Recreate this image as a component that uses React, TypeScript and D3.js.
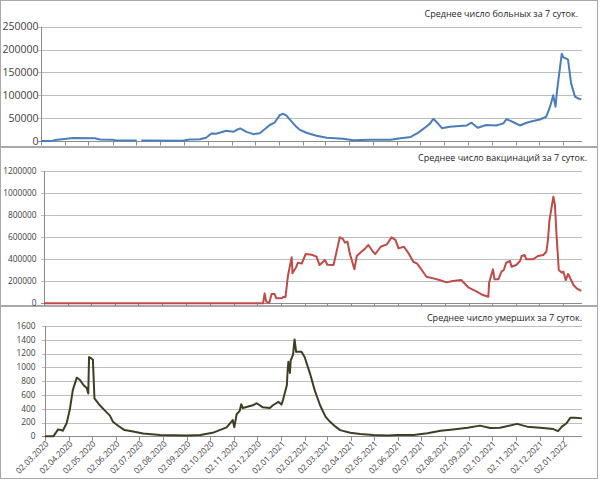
import { useEffect, useRef } from "react";
import * as d3 from "d3";

type Point = [string, number | null];

const TICK_LABELS = [
  "02.03.2020", "02.04.2020", "02.05.2020", "02.06.2020", "02.07.2020", "02.08.2020",
  "02.09.2020", "02.10.2020", "02.11.2020", "02.12.2020", "02.01.2021", "02.02.2021",
  "02.03.2021", "02.04.2021", "02.05.2021", "02.06.2021", "02.07.2021", "02.08.2021",
  "02.09.2021", "02.10.2021", "02.11.2021", "02.12.2021", "02.01.2022",
];

const CASES_TICKS = [0, 50000, 100000, 150000, 200000, 250000];
const VACC_TICKS = [0, 200000, 400000, 600000, 800000, 1000000, 1200000];
const DEATH_TICKS = [0, 200, 400, 600, 800, 1000, 1200, 1400, 1600];

// 7-day average of new cases (null = gap in the source line)
const CASES: Point[] = [
  ["2020-03-02", 0], ["2020-03-17", 500], ["2020-03-20", 2000], ["2020-04-04", 5000],
  ["2020-04-12", 6500], ["2020-05-10", 6000], ["2020-05-17", 3500], ["2020-06-03", 2500],
  ["2020-06-07", 1000], ["2020-07-03", 1000], ["2020-07-06", null], ["2020-07-09", 1000],
  ["2020-08-31", 600], ["2020-09-09", 3500], ["2020-09-22", 4000], ["2020-09-30", 7000],
  ["2020-10-07", 16500], ["2020-10-13", 16000], ["2020-10-26", 22500], ["2020-11-04", 20000],
  ["2020-11-08", 24000], ["2020-11-13", 27500], ["2020-11-21", 20000], ["2020-11-30", 15000],
  ["2020-12-08", 17000], ["2020-12-21", 35000], ["2020-12-27", 40000], ["2021-01-03", 57000],
  ["2021-01-07", 59500], ["2021-01-11", 56000], ["2021-01-24", 31000], ["2021-01-28", 25000],
  ["2021-02-06", 18000], ["2021-02-19", 11500], ["2021-03-04", 7000], ["2021-03-25", 5000],
  ["2021-04-07", 1500], ["2021-04-29", 2500], ["2021-05-25", 2500], ["2021-06-07", 6000],
  ["2021-06-20", 9000], ["2021-06-28", 16500], ["2021-07-07", 27500], ["2021-07-15", 38500],
  ["2021-07-19", 48700], ["2021-07-24", 40000], ["2021-07-30", 28000], ["2021-08-09", 31000],
  ["2021-08-22", 33000], ["2021-08-31", 34000], ["2021-09-06", 40000], ["2021-09-14", 29000],
  ["2021-09-25", 35000], ["2021-10-08", 34000], ["2021-10-17", 38500], ["2021-10-21", 48000],
  ["2021-10-30", 41000], ["2021-11-07", 34000], ["2021-11-16", 40000], ["2021-11-24", 43700],
  ["2021-12-03", 47000], ["2021-12-11", 53000], ["2021-12-16", 75000], ["2021-12-20", 100000],
  ["2021-12-23", 75000], ["2021-12-25", 111000], ["2021-12-31", 191000], ["2022-01-02", 183000],
  ["2022-01-06", 180000], ["2022-01-08", 178000], ["2022-01-12", 126000], ["2022-01-17", 97000],
  ["2022-01-21", 93000], ["2022-01-25", 91000],
];

// 7-day average of vaccinations
const VACCINATIONS: Point[] = [
  ["2020-03-02", 0], ["2020-12-10", 0], ["2020-12-12", 90000], ["2020-12-14", 15000],
  ["2020-12-18", 5000], ["2020-12-21", 84000], ["2020-12-25", 84000], ["2020-12-27", 45000],
  ["2021-01-03", 45000], ["2021-01-05", 58000], ["2021-01-08", 58000], ["2021-01-11", 241000],
  ["2021-01-13", 317000], ["2021-01-16", 417000], ["2021-01-17", 272000], ["2021-01-22", 332000],
  ["2021-01-24", 368000], ["2021-01-29", 360000], ["2021-02-03", 447000], ["2021-02-11", 440000],
  ["2021-02-17", 423000], ["2021-02-21", 347000], ["2021-02-28", 393000], ["2021-03-03", 350000],
  ["2021-03-11", 347000], ["2021-03-14", 438000], ["2021-03-19", 598000], ["2021-03-23", 584000],
  ["2021-03-26", 550000], ["2021-03-29", 560000], ["2021-04-01", 453000], ["2021-04-07", 308000],
  ["2021-04-10", 429000], ["2021-04-16", 468000], ["2021-04-21", 498000], ["2021-04-25", 529000],
  ["2021-05-01", 468000], ["2021-05-04", 447000], ["2021-05-11", 513000], ["2021-05-19", 535000],
  ["2021-05-25", 598000], ["2021-05-30", 575000], ["2021-06-03", 498000], ["2021-06-10", 513000],
  ["2021-06-16", 453000], ["2021-06-22", 377000], ["2021-06-27", 360000], ["2021-07-01", 322000],
  ["2021-07-09", 241000], ["2021-07-18", 226000], ["2021-07-26", 211000], ["2021-08-04", 190000],
  ["2021-08-12", 202000], ["2021-08-23", 211000], ["2021-09-01", 145000], ["2021-09-12", 105000],
  ["2021-09-20", 75000], ["2021-09-27", 60000], ["2021-09-28", 187000], ["2021-10-03", 308000],
  ["2021-10-05", 218000], ["2021-10-10", 218000], ["2021-10-14", 287000], ["2021-10-17", 302000],
  ["2021-10-20", 368000], ["2021-10-25", 384000], ["2021-10-27", 332000], ["2021-11-02", 347000],
  ["2021-11-07", 384000], ["2021-11-09", 429000], ["2021-11-13", 438000], ["2021-11-15", 399000],
  ["2021-11-24", 399000], ["2021-11-30", 429000], ["2021-12-07", 438000], ["2021-12-11", 468000],
  ["2021-12-13", 574000], ["2021-12-15", 755000], ["2021-12-20", 967000], ["2021-12-22", 892000],
  ["2021-12-24", 635000], ["2021-12-27", 302000], ["2021-12-31", 278000], ["2022-01-02", 287000],
  ["2022-01-05", 211000], ["2022-01-08", 266000], ["2022-01-10", 240000], ["2022-01-15", 166000],
  ["2022-01-19", 136000], ["2022-01-25", 112000],
];

// 7-day average of deaths
const DEATHS: Point[] = [
  ["2020-03-02", 0], ["2020-03-13", 2], ["2020-03-19", 100], ["2020-03-23", 90],
  ["2020-03-25", 80], ["2020-03-30", 190], ["2020-04-03", 380], ["2020-04-05", 525],
  ["2020-04-07", 670], ["2020-04-12", 850], ["2020-04-16", 820], ["2020-04-21", 740],
  ["2020-04-25", 700], ["2020-04-27", 620], ["2020-04-28", 1150], ["2020-05-01", 1130],
  ["2020-05-03", 1110], ["2020-05-05", 550], ["2020-05-12", 450], ["2020-05-18", 380],
  ["2020-05-25", 300], ["2020-05-29", 210], ["2020-06-05", 150], ["2020-06-13", 90],
  ["2020-06-24", 70], ["2020-07-07", 40], ["2020-07-29", 20], ["2020-09-02", 10],
  ["2020-09-19", 20], ["2020-10-05", 50], ["2020-10-23", 130], ["2020-10-31", 235],
  ["2020-11-02", 130], ["2020-11-05", 320], ["2020-11-09", 370], ["2020-11-11", 465],
  ["2020-11-13", 410], ["2020-11-26", 450], ["2020-12-01", 480], ["2020-12-09", 420],
  ["2020-12-18", 410], ["2020-12-22", 450], ["2020-12-29", 500], ["2021-01-02", 460],
  ["2021-01-04", 525], ["2021-01-09", 740], ["2021-01-10", 950], ["2021-01-11", 1080],
  ["2021-01-13", 920], ["2021-01-14", 1100], ["2021-01-17", 1180], ["2021-01-19", 1405],
  ["2021-01-21", 1225], ["2021-01-28", 1225], ["2021-02-01", 1150], ["2021-02-08", 910],
  ["2021-02-14", 670], ["2021-02-21", 450], ["2021-02-28", 285], ["2021-03-06", 210],
  ["2021-03-13", 140], ["2021-03-19", 90], ["2021-04-01", 52], ["2021-04-14", 35],
  ["2021-05-01", 20], ["2021-05-20", 10], ["2021-06-01", 20], ["2021-06-22", 20],
  ["2021-07-10", 45], ["2021-07-27", 80], ["2021-08-12", 100], ["2021-08-31", 125],
  ["2021-09-16", 155], ["2021-09-29", 120], ["2021-10-12", 125], ["2021-11-03", 180],
  ["2021-11-16", 140], ["2021-12-03", 125], ["2021-12-20", 105], ["2021-12-26", 75],
  ["2021-12-31", 140], ["2022-01-06", 190], ["2022-01-11", 270], ["2022-01-17", 270],
  ["2022-01-26", 260],
];

const START = "2020-03-02";
const END = "2022-01-26";

const FONT = "'Open Sans', 'DejaVu Sans', sans-serif";
const PLOT_RIGHT = 582;

const PANELS = [
  {
    title: "Среднее число больных за 7 суток.", data: CASES, ticks: CASES_TICKS, color: "#4a7ebb",
    boxTop: 0.5, boxBottom: 146.5, left: 41, top: 26.7, bottom: 141, labelX: 38.5, labelSize: 10.5,
    titleX: 578, titleY: 16.5, dateLabels: false,
  },
  {
    title: "Среднее число вакцинаций за 7 суток.", data: VACCINATIONS, ticks: VACC_TICKS, color: "#be4b48",
    boxTop: 147.5, boxBottom: 305.5, left: 44, top: 171, bottom: 303.3, labelX: 36.5, labelSize: 8.3,
    titleX: 587, titleY: 160.5, dateLabels: false,
  },
  {
    title: "Среднее число умерших за 7 суток.", data: DEATHS, ticks: DEATH_TICKS, color: "#403d24",
    boxTop: 306.5, boxBottom: 478.5, left: 45, top: 326, bottom: 436.3, labelX: 35.5, labelSize: 8.3,
    titleX: 582, titleY: 320.5, dateLabels: true,
  },
];

export default function App() {
  const ref = useRef<SVGSVGElement>(null);

  useEffect(() => {
    if (!ref.current) return;
    const svg = d3.select(ref.current);
    svg.selectAll("*").remove();

    const parseIso = d3.timeParse("%Y-%m-%d");
    const parseTick = d3.timeParse("%d.%m.%Y");
    const tickDates = TICK_LABELS.map((t) => parseTick(t)!);

    PANELS.forEach((p) => {
      const g = svg.append("g");

      // panel frame
      g.append("rect")
        .attr("x", 0.5)
        .attr("y", p.boxTop)
        .attr("width", 597)
        .attr("height", p.boxBottom - p.boxTop)
        .attr("fill", "#fff")
        .attr("stroke", "#a9a9a9");

      const x = d3.scaleTime().domain([parseIso(START)!, parseIso(END)!]).range([p.left, PLOT_RIGHT]);
      const y = d3.scaleLinear().domain([0, d3.max(p.ticks)!]).range([p.bottom, p.top]);

      // gridlines
      g.selectAll(".grid")
        .data(p.ticks.filter((t) => t > 0))
        .join("line")
        .attr("x1", p.left - 3)
        .attr("x2", PLOT_RIGHT)
        .attr("y1", (d) => Math.round(y(d)) + 0.5)
        .attr("y2", (d) => Math.round(y(d)) + 0.5)
        .attr("stroke", "#bdbdbd")
        .attr("stroke-width", 1);

      // y labels
      g.selectAll(".ylab")
        .data(p.ticks)
        .join("text")
        .attr("x", p.labelX)
        .attr("y", (d) => y(d))
        .attr("dy", "0.35em")
        .attr("text-anchor", "end")
        .style("font-family", FONT)
        .style("font-size", `${p.labelSize}px`)
        .style("fill", "#404040")
        .text((d) => String(d));

      // axes
      g.append("line")
        .attr("x1", Math.round(p.left) + 0.5)
        .attr("x2", Math.round(p.left) + 0.5)
        .attr("y1", p.top)
        .attr("y2", p.bottom)
        .attr("stroke", "#8c8c8c");
      g.append("line")
        .attr("x1", p.left - 3)
        .attr("x2", PLOT_RIGHT)
        .attr("y1", Math.round(p.bottom) + 0.5)
        .attr("y2", Math.round(p.bottom) + 0.5)
        .attr("stroke", "#8c8c8c");

      g.selectAll(".xtick")
        .data(tickDates)
        .join("line")
        .attr("x1", (d) => Math.round(x(d)) + 0.5)
        .attr("x2", (d) => Math.round(x(d)) + 0.5)
        .attr("y1", p.bottom)
        .attr("y2", p.bottom + 4.5)
        .attr("stroke", "#8c8c8c");

      if (p.dateLabels) {
        // opacity just under 1 keeps the rotated labels grey instead of colour-fringed
        g.append("g")
          .attr("opacity", 0.99)
          .selectAll("text")
          .data(tickDates)
          .join("text")
          .attr("transform", (d) => `translate(${x(d) + 2},${p.bottom + 6}) rotate(-45)`)
          .attr("text-anchor", "end")
          .attr("dy", "0.35em")
          .style("font-family", FONT)
          .style("font-size", "8.3px")
          .style("fill", "#404040")
          .text((_, i) => TICK_LABELS[i]);
      }

      // series
      const line = d3
        .line<Point>()
        .defined((d) => d[1] !== null)
        .x((d) => x(parseIso(d[0])!))
        .y((d) => y(d[1] as number));

      g.append("path")
        .datum(p.data)
        .attr("d", line)
        .attr("fill", "none")
        .attr("stroke", p.color)
        .attr("stroke-width", 2)
        .attr("stroke-linejoin", "round");

      // title
      g.append("text")
        .attr("x", p.titleX)
        .attr("y", p.titleY)
        .attr("text-anchor", "end")
        .style("font-family", FONT)
        .style("font-size", "9px")
        .style("fill", "#262626")
        .text(p.title);
    });
  }, []);

  return (
    <svg
      ref={ref}
      width={600}
      height={480}
      style={{ position: "absolute", left: 0, top: 0, background: "#fff" }}
    />
  );
}
